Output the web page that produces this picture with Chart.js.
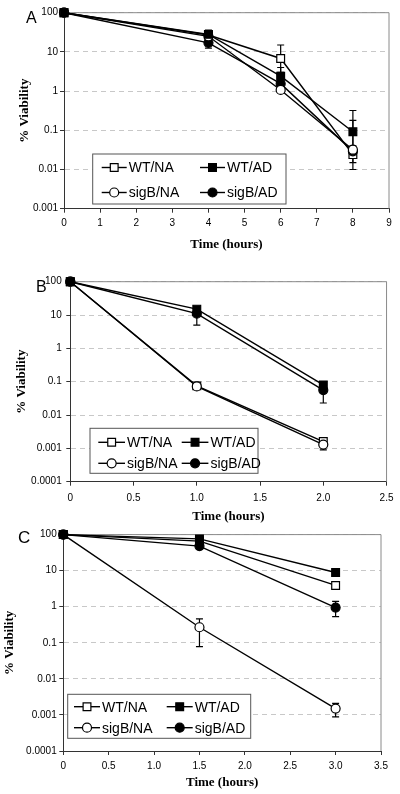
<!DOCTYPE html>
<html>
<head>
<meta charset="utf-8">
<script src="https://cdn.jsdelivr.net/npm/chart.js@4"></script>
<style>
  body { margin: 0; background: #fff; }
  .panel { position: absolute; left: 0; width: 400px; }
</style>
</head>
<body>
<div class="panel" style="top:0px"><canvas id="chartA" width="400" height="262"></canvas></div>
<div class="panel" style="top:262px"><canvas id="chartB" width="400" height="264"></canvas></div>
<div class="panel" style="top:526px"><canvas id="chartC" width="400" height="268"></canvas></div>
<script>
// 범례 이름
const seriesNames = ['WT/NA', 'WT/AD', 'sigB/NA', 'sigB/AD'];

// A: 시간축 / 값
const timesA = [0, 4, 6, 8];
const xTicksA = [0, 1, 2, 3, 4, 5, 6, 7, 8, 9];
const yTicksA = [0.001, 0.01, 0.1, 1, 10, 100];
const yLabelsA = ['0.001', '0.01', '0.1', '1', '10', '100'];
const wtNaA = [100, 27, 6.8, 0.024];
const wtAdA = [100, 28, 2.4, 0.092];
const sigNaA = [100, 25, 1.07, 0.032];
const sigAdA = [100, 17, 1.55, 0.029];
const wtNaLoA = [null, 20, 3, 0.015];
const wtNaHiA = [null, 36, 15, 0.18];
const wtAdLoA = [null, null, 1.2, 0.04];
const wtAdHiA = [null, null, 4, 0.32];
const sigAdLoA = [null, 12.5, null, 0.01];

// B
const timesB = [0, 1, 2];
const xTicksB = [0, 0.5, 1, 1.5, 2, 2.5];
const yTicksB = [0.0001, 0.001, 0.01, 0.1, 1, 10, 100];
const yLabelsB = ['0.0001', '0.001', '0.01', '0.1', '1', '10', '100'];
const wtNaB = [100, 0.075, 0.0016];
const wtAdB = [100, 15, 0.08];
const sigNaB = [100, 0.072, 0.0013];
const sigAdB = [100, 11, 0.056];
const sigNaLoB = [null, null, 0.0009];
const sigAdLoB = [null, 5, 0.023];

// C
const timesC = [0, 1.5, 3];
const xTicksC = [0, 0.5, 1, 1.5, 2, 2.5, 3, 3.5];
const yTicksC = [0.0001, 0.001, 0.01, 0.1, 1, 10, 100];
const yLabelsC = ['0.0001', '0.001', '0.01', '0.1', '1', '10', '100'];
const wtNaC = [100, 66, 3.9];
const wtAdC = [100, 76, 8.9];
const sigNaC = [100, 0.27, 0.0015];
const sigAdC = [100, 48, 0.95];
const sigNaLoC = [null, 0.078, 0.00088];
const sigNaHiC = [null, 0.46, 0.0021];
const sigAdLoC = [null, null, 0.53];
const sigAdHiC = [null, null, 1.4];

Chart.defaults.font.family = '"Liberation Sans", Arial, sans-serif';
Chart.defaults.font.size = 10;
Chart.defaults.color = '#000';

// 마커 모양 (순서: WT/NA, WT/AD, sigB/NA, sigB/AD)
const markStyles = [
    { pointStyle: 'rect', fill: '#fff', r: 5.5, order: 1 },
    { pointStyle: 'rect', fill: '#000', r: 5.5, order: -1 },
    { pointStyle: 'circle', fill: '#fff', r: 4.5, order: 0 },
    { pointStyle: 'circle', fill: '#000', r: 4.5, order: 0 }
];

// 오차 막대
const errorBars = {
    id: 'errorBars',
    beforeDatasetsDraw(chart) {
        const { ctx, scales: { x, y } } = chart;
        ctx.save();
        ctx.strokeStyle = '#000';
        ctx.lineWidth = 1.2;
        chart.data.datasets.forEach(ds => {
            ds.data.forEach((p, i) => {
                const px = x.getPixelForValue(p.x);
                const py0 = y.getPixelForValue(p.y);
                [ds.errHi && ds.errHi[i], ds.errLo && ds.errLo[i]].forEach(v => {
                    if (v == null) return;
                    const py = y.getPixelForValue(v);
                    ctx.beginPath();
                    ctx.moveTo(px, py0);
                    ctx.lineTo(px, py);
                    ctx.moveTo(px - 3.5, py);
                    ctx.lineTo(px + 3.5, py);
                    ctx.stroke();
                });
            });
        });
        ctx.restore();
    }
};

// 위/오른쪽 테두리 (회색)
const frame = {
    id: 'frame',
    beforeDatasetsDraw(chart) {
        const { ctx, chartArea: a } = chart;
        ctx.save();
        ctx.strokeStyle = '#8a8a8a';
        ctx.lineWidth = 1;
        ctx.beginPath();
        ctx.moveTo(a.left, a.top);
        ctx.lineTo(a.right, a.top);
        ctx.lineTo(a.right, a.bottom);
        ctx.stroke();
        ctx.restore();
    }
};

function drawMark(ctx, style, x, y) {
    ctx.fillStyle = style.fill;
    ctx.strokeStyle = '#000';
    ctx.lineWidth = 1.2;
    ctx.beginPath();
    if (style.pointStyle === 'rect') {
        const s = style.r * Math.SQRT1_2;
        ctx.rect(x - s, y - s, 2 * s, 2 * s);
    } else {
        ctx.arc(x, y, style.r, 0, Math.PI * 2);
    }
    ctx.fill();
    ctx.stroke();
}

// 그래프 안쪽 범례 상자
const boxLegend = {
    id: 'boxLegend',
    afterDraw(chart, args, opts) {
        const { ctx, chartArea } = chart;
        const left = chartArea.left + opts.dx;
        const top = chartArea.bottom - opts.dy - opts.h;
        ctx.save();
        ctx.fillStyle = '#fff';
        ctx.fillRect(left, top, opts.w, opts.h);
        ctx.strokeStyle = '#555';
        ctx.lineWidth = 1;
        ctx.strokeRect(left, top, opts.w, opts.h);
        ctx.font = '14px "Liberation Sans", Arial, sans-serif';
        ctx.textBaseline = 'middle';
        chart.data.datasets.forEach((ds, i) => {
            const sx = left + opts.cols[i % 2];
            const sy = top + opts.rows[Math.floor(i / 2)];
            ctx.strokeStyle = '#000';
            ctx.lineWidth = 1.4;
            ctx.beginPath();
            ctx.moveTo(sx, sy);
            ctx.lineTo(sx + opts.symW, sy);
            ctx.stroke();
            drawMark(ctx, markStyles[i], sx + opts.symW / 2, sy);
            ctx.fillStyle = '#000';
            ctx.fillText(ds.label, sx + opts.symW + 2, sy + 1);
        });
        ctx.restore();
    }
};

// 패널 문자 (A, B, C)
const panelLetter = {
    id: 'panelLetter',
    afterDraw(chart, args, opts) {
        const { ctx } = chart;
        ctx.save();
        ctx.font = opts.size + 'px "Liberation Sans", Arial, sans-serif';
        ctx.fillStyle = '#000';
        ctx.textBaseline = 'alphabetic';
        ctx.fillText(opts.text, opts.x, opts.y);
        ctx.restore();
    }
};

function makePanel(id, p) {
    const datasets = p.series.map((vals, i) => ({
        label: seriesNames[i],
        data: p.times.map((t, j) => ({ x: t, y: vals[j] })),
        errLo: p.lo[i],
        errHi: p.hi[i],
        order: markStyles[i].order,
        borderColor: '#000',
        borderWidth: 1.4,
        pointStyle: markStyles[i].pointStyle,
        pointRadius: markStyles[i].r,
        pointBackgroundColor: markStyles[i].fill,
        pointBorderColor: '#000',
        pointBorderWidth: 1.2,
        clip: false
    }));

    return new Chart(document.getElementById(id), {
        type: 'line',
        data: { datasets: datasets },
        options: {
            responsive: false,
            animation: false,
            layout: { padding: p.padding },
            plugins: {
                legend: { display: false },
                tooltip: { enabled: false },
                boxLegend: p.legend,
                panelLetter: p.letter
            },
            scales: {
                x: {
                    type: 'linear',
                    min: p.xTicks[0],
                    max: p.xTicks[p.xTicks.length - 1],
                    afterBuildTicks: s => { s.ticks = p.xTicks.map(v => ({ value: v })); },
                    afterFit: s => { s.height = p.xHeight; },
                    ticks: { padding: p.xPad, maxRotation: 0, autoSkip: false, font: { size: 10 } },
                    grid: { drawOnChartArea: false, tickLength: 4, tickColor: '#333' },
                    border: { color: '#333', width: 1 },
                    title: {
                        display: true,
                        text: 'Time (hours)',
                        padding: 0,
                        font: { family: '"Liberation Serif", "Times New Roman", serif', weight: 'bold', size: 13 }
                    }
                },
                y: {
                    type: 'logarithmic',
                    min: p.yTicks[0],
                    max: p.yTicks[p.yTicks.length - 1],
                    afterBuildTicks: s => { s.ticks = p.yTicks.map(v => ({ value: v })); },
                    afterFit: s => { s.width = p.yWidth; },
                    ticks: {
                        padding: p.yPad,
                        autoSkip: false,
                        font: { size: 10 },
                        callback: (v, idx) => p.yLabels[idx]
                    },
                    grid: { color: '#c8c8c8', tickLength: 4, tickColor: '#333' },
                    border: { color: '#333', width: 1, dash: [5, 4] },
                    title: {
                        display: true,
                        text: '% Viability',
                        padding: { top: p.yTitlePad, bottom: 0 },
                        font: { family: '"Liberation Serif", "Times New Roman", serif', weight: 'bold', size: 13 }
                    }
                }
            }
        },
        plugins: [frame, errorBars, boxLegend, panelLetter]
    });
}

document.addEventListener('DOMContentLoaded', () => {
    makePanel('chartA', {
        times: timesA, xTicks: xTicksA, yTicks: yTicksA, yLabels: yLabelsA,
        series: [wtNaA, wtAdA, sigNaA, sigAdA],
        lo: [wtNaLoA, wtAdLoA, null, sigAdLoA],
        hi: [wtNaHiA, wtAdHiA, null, null],
        padding: { top: 12.7, right: 11, bottom: 9.2, left: 0 },
        yWidth: 64, xHeight: 44.1, xPad: 5, yPad: 2, yTitlePad: 17.2,
        legend: { dx: 28.7, dy: 4.7, w: 193.3, h: 50, cols: [9, 107.3], rows: [13.5, 38.5], symW: 25 },
        letter: { text: 'A', x: 26, y: 23.3, size: 16 }
    });
    makePanel('chartB', {
        times: timesB, xTicks: xTicksB, yTicks: yTicksB, yLabels: yLabelsB,
        series: [wtNaB, wtAdB, sigNaB, sigAdB],
        lo: [null, null, sigNaLoB, sigAdLoB],
        hi: [null, null, null, null],
        padding: { top: 19.7, right: 13.3, bottom: 1.2, left: 0 },
        yWidth: 70.3, xHeight: 43.1, xPad: 6.5, yPad: 4.6, yTitlePad: 14.2,
        legend: { dx: 19.7, dy: 8.4, w: 168, h: 45, cols: [8.3, 91.7], rows: [14, 35], symW: 26.7 },
        letter: { text: 'B', x: 36, y: 30.3, size: 16 }
    });
    makePanel('chartC', {
        times: timesC, xTicks: xTicksC, yTicks: yTicksC, yLabels: yLabelsC,
        series: [wtNaC, wtAdC, sigNaC, sigAdC],
        lo: [null, null, sigNaLoC, sigAdLoC],
        hi: [null, null, sigNaHiC, sigAdHiC],
        padding: { top: 6.3, right: 19, bottom: 3.2, left: 0 },
        yWidth: 63.3, xHeight: 39.8, xPad: 5.7, yPad: 2.6, yTitlePad: 1.7,
        legend: { dx: 4.4, dy: 12.7, w: 183, h: 44, cols: [6.3, 99], rows: [12.4, 33.4], symW: 26 },
        letter: { text: 'C', x: 18, y: 16.7, size: 17 }
    });
});
</script>
</body>
</html>
